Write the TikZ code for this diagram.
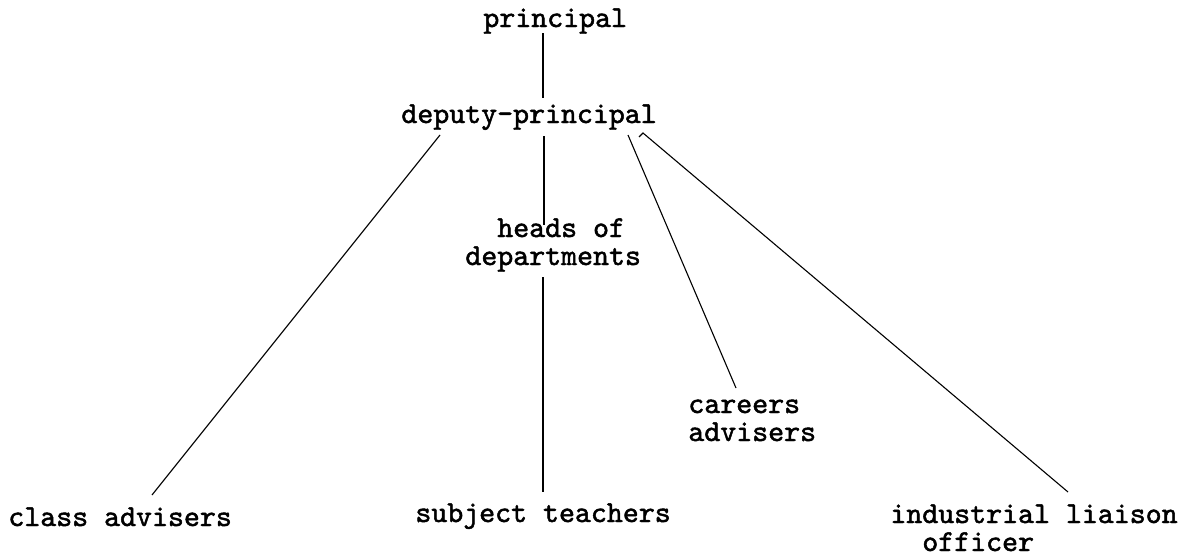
\documentclass[tikz,border=0pt]{standalone}
\usepackage{fontspec}
\newfontfamily\typewriter{lmmono10-regular.otf}[FakeBold=1.6]
\usepackage{tikz}
\usetikzlibrary{calc, positioning}

\begin{document}
\begin{tikzpicture}[x=0.5pt, y=-0.5pt,
    every node/.style={inner sep=0pt, font=\typewriter\fontsize{15.2pt}{14pt}\selectfont},
    role/.style={anchor=base west, align=left},
    link/.style={line width=0.55pt, black}]
    \useasboundingbox (0,0) rectangle (1180,557);

    % Head of school (base west = baseline of the last line)
    \node[role] (prin) at (483,27) {principal};
    \node[role] (dep) at (401,123) {deputy-principal};

    % Middle level
    \node[role] (heads) at (465,265) {\phantom{de}heads of\\departments};
    \node[role] (car) at (688,441) {careers\\advisers};

    % Bottom row
    \node[role] (cls) at (8,526) {class advisers};
    \node[role] (subj) at (415,522) {subject teachers};
    \node[role] (ind) at (890,551) {industrial liaison\\\phantom{in}officer};

    % Lines of responsibility
    \draw[link] ($(prin.base west)+(60,6)$) -- ($(dep.base west)+(142,-25)$);
    \draw[link] ($(dep.base west)+(39,12)$) -- ($(cls.base west)+(144,-31)$);
    \draw[link] ($(dep.base west)+(143,13)$) -- ($(heads.base west)+(79,-40)$);
    \draw[link] ($(heads.base west)+(78,12)$) -- ($(subj.base west)+(128,-30)$);
    \draw[link] ($(dep.base west)+(227,12)$) -- ($(car.base west)+(48,-53)$);
    \draw[link] ($(dep.base west)+(238,14)$) -- ($(dep.base west)+(242,10)$)
        -- ($(ind.base west)+(178,-59)$);

\end{tikzpicture}
\end{document}
